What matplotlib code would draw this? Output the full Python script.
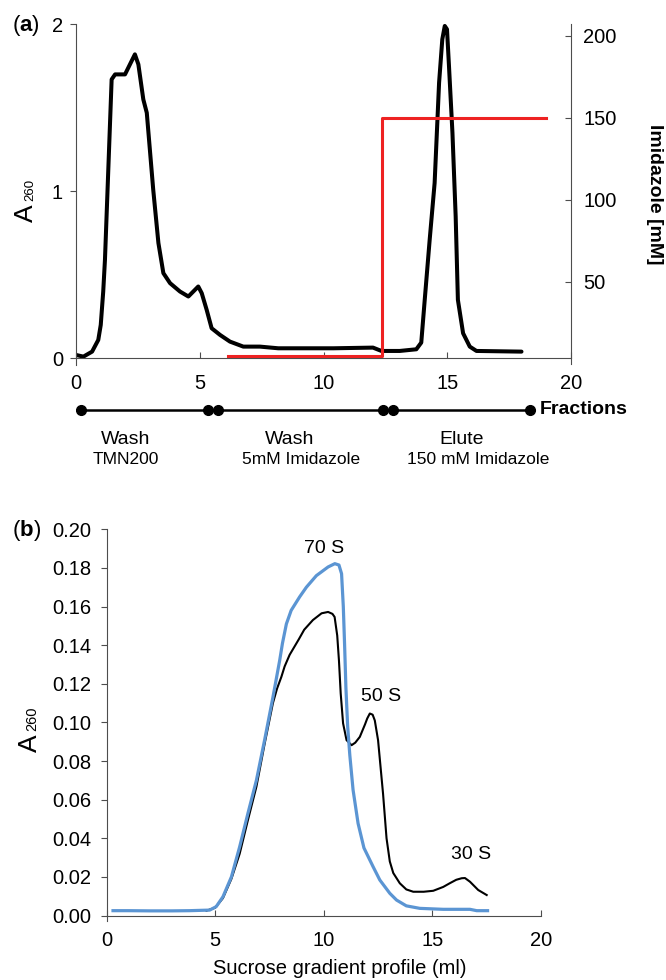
import numpy as np
import matplotlib.pyplot as plt

plt.rcParams['font.family'] = ['Liberation Sans', 'DejaVu Sans']
plt.rcParams['font.size'] = 14
plt.rcParams['xtick.labelsize'] = 14.5
plt.rcParams['ytick.labelsize'] = 14.5
plt.rcParams['mathtext.fontset'] = 'custom'
plt.rcParams['mathtext.rm'] = 'Liberation Sans'
plt.rcParams['mathtext.bf'] = 'Liberation Sans:bold'

# (a) Ni-NTA purification: A260 of the eluate (ml) and imidazole step (mM)
a_ml = [0.0, 0.3, 0.65, 0.9, 1.0, 1.1, 1.17, 1.31, 1.44, 1.58, 1.98, 2.38, 2.52,
        2.72, 2.86, 3.12, 3.33, 3.53, 3.80, 4.2, 4.54, 4.94, 5.08, 5.28, 5.48,
        5.82, 6.22, 6.76, 7.43, 8.17, 10.4, 12.0, 12.34, 13.08, 13.75, 13.95,
        14.09, 14.29, 14.49, 14.67, 14.8, 14.9, 14.99, 15.07, 15.21, 15.34,
        15.43, 15.64, 15.91, 16.18, 18.0]
a_a260 = [0.02, 0.01, 0.04, 0.11, 0.2, 0.4, 0.59, 1.15, 1.67, 1.70, 1.70, 1.82,
          1.76, 1.55, 1.47, 1.01, 0.69, 0.51, 0.45, 0.40, 0.37, 0.43, 0.39, 0.29,
          0.18, 0.14, 0.10, 0.07, 0.07, 0.06, 0.06, 0.064, 0.044, 0.044, 0.054,
          0.094, 0.35, 0.71, 1.05, 1.65, 1.91, 1.99, 1.97, 1.75, 1.35, 0.85,
          0.35, 0.15, 0.07, 0.044, 0.04]
imid_ml = [6.15, 12.35, 12.35, 19.0]
imid_mm = [5, 5, 150, 150]

# fraction boundaries (ml) and buffer steps
frac_ml = [0.2, 5.35, 5.75, 12.4, 12.8, 18.35]
stage_titles = ['Wash', 'Wash', 'Elute']
stage_notes = ['TMN200', '5mM Imidazole', '150 mM Imidazole']

# (b) sucrose gradient profiles
blk_ml = [4.6, 5.0, 5.36, 5.75, 6.13, 6.5, 6.9, 7.28, 7.66, 7.85, 8.05, 8.2,
          8.43, 8.85, 9.1, 9.5, 9.9, 10.2, 10.4, 10.5, 10.62, 10.7, 10.78, 10.89,
          11.05, 11.28, 11.45, 11.66, 11.9, 12.0, 12.12, 12.25, 12.35, 12.5,
          12.73, 12.89, 13.04, 13.2, 13.5, 13.8, 14.12, 14.6, 15.04, 15.5, 15.8,
          16.1, 16.35, 16.5, 16.73, 17.11, 17.5]
blk_a260 = [0.0025, 0.0040, 0.009, 0.019, 0.032, 0.049, 0.0667, 0.089, 0.110,
            0.1175, 0.1236, 0.129, 0.135, 0.1430, 0.148, 0.153, 0.1565, 0.1572,
            0.1562, 0.1546, 0.145, 0.132, 0.115, 0.0995, 0.0908, 0.0882, 0.0895,
            0.0925, 0.099, 0.102, 0.1046, 0.104, 0.101, 0.0908, 0.063, 0.040,
            0.028, 0.022, 0.0167, 0.0135, 0.0123, 0.0123, 0.0128, 0.0148, 0.0167,
            0.0185, 0.0193, 0.0194, 0.0175, 0.0132, 0.0106]
blu_ml = [0.3, 1.0, 2.0, 3.0, 3.82, 4.75, 5.05, 5.36, 5.75, 6.13, 6.51, 6.9,
          7.28, 7.66, 7.97, 8.1, 8.28, 8.5, 8.89, 9.2, 9.66, 10.2, 10.51, 10.7,
          10.82, 10.9, 10.96, 11.02, 11.1, 11.2, 11.35, 11.58, 11.85, 12.27,
          12.58, 13.04, 13.35, 13.8, 14.42, 15.5, 16.73, 17.04, 17.54]
blu_a260 = [0.0025, 0.0025, 0.0024, 0.0024, 0.0025, 0.0028, 0.0046, 0.0097,
            0.020, 0.0356, 0.0529, 0.070, 0.091, 0.113, 0.132, 0.141, 0.151,
            0.158, 0.165, 0.170, 0.176, 0.1805, 0.1822, 0.1815, 0.177, 0.160,
            0.140, 0.118, 0.098, 0.083, 0.065, 0.0477, 0.035, 0.0253, 0.0184,
            0.0115, 0.008, 0.005, 0.0037, 0.0032, 0.0032, 0.0025, 0.0025]
peak_names = ['70 S', '50 S', '30 S']

W, H = 666, 980
SPINE = '#4d4d4d'
fig = plt.figure(figsize=(W / 100, H / 100), dpi=100)


def box(left, top, right, bottom):
    return [left / W, 1 - bottom / H, (right - left) / W, (bottom - top) / H]


def a260_label(x, y, big, small):
    fig.text(x / W, 1 - y / H, 'A', rotation=90, rotation_mode='anchor',
             ha='left', va='baseline', fontsize=big)
    fig.text(x / W, 1 - (y - 21) / H, '260', rotation=90, rotation_mode='anchor',
             ha='left', va='baseline', fontsize=small)


# ---- panel (a)
ax = fig.add_axes(box(76, 24.3, 571, 358.3))
ax.plot(a_ml, a_a260, color='black', lw=2.9, solid_joinstyle='round',
        solid_capstyle='round')
ax.set_xlim(0, 20)
ax.set_ylim(0, 2)
ax.set_xticks([0, 5, 10, 15, 20])
ax.set_yticks([0, 1, 2])
for s in ['top', 'right']:
    ax.spines[s].set_visible(False)
for s in ['left', 'bottom']:
    ax.spines[s].set_color(SPINE)
ax.spines['left'].set_bounds(-0.04, 2)
ax.tick_params(axis='x', direction='in', length=4.3, color=SPINE, pad=11)
ax.tick_params(axis='y', direction='out', length=4.3, color=SPINE, pad=5)

axr = ax.twinx()
axr.plot(imid_ml, imid_mm, color='#ee2222', lw=2.2)
axr.set_ylim(3.3, 206.9)
axr.set_yticks([50, 100, 150, 200])
for s in ['top', 'left', 'bottom']:
    axr.spines[s].set_visible(False)
axr.spines['right'].set_color(SPINE)
axr.spines['right'].set_bounds(0, 206.9)
axr.tick_params(axis='y', direction='in', length=4.3, color=SPINE, pad=9)

fig.text(12 / W, 1 - 25 / H, r'($\mathbf{a}$)', ha='left', va='center', fontsize=16)
a260_label(33.3, 222, 19, 9.5)
fig.text(655 / W, 1 - 194 / H, 'Imidazole [mM]', rotation=270,
         ha='center', va='center', fontweight='bold')

# fractions bar under panel (a)
axf = fig.add_axes(box(76, 395, 571, 475))
axf.set_xlim(0, 20)
axf.set_ylim(475, 395)
axf.axis('off')
axf.plot([frac_ml[0], frac_ml[-1]], [410, 410], color='black', lw=1.8)
axf.plot(frac_ml, [410] * len(frac_ml), 'o', color='black', ms=7)
axf.text(18.75, 410, 'Fractions', ha='left', va='center', fontweight='bold')
for title, note, tx, nx in zip(stage_titles, stage_notes,
                               [2.0, 8.65, 15.6], [2.0, 9.1, 16.25]):
    axf.text(tx, 439, title, ha='center', va='center', fontsize=14)
    axf.text(nx, 460, note, ha='center', va='center', fontsize=12.5)

# ---- panel (b)
bx = fig.add_axes(box(106.5, 529.3, 541, 915.5))
bx.plot(blk_ml, blk_a260, color='black', lw=1.5, solid_joinstyle='round')
bx.plot(blu_ml, blu_a260, color='#5b95d3', lw=2.3, solid_joinstyle='round')
bx.set_xlim(0, 20)
bx.set_ylim(0, 0.2)
bx.set_xticks([0, 5, 10, 15, 20])
bx.set_yticks(np.arange(0, 0.201, 0.02))
bx.yaxis.set_major_formatter(plt.FormatStrFormatter('%.2f'))
for s in ['top', 'right']:
    bx.spines[s].set_visible(False)
for s in ['left', 'bottom']:
    bx.spines[s].set_color(SPINE)
bx.spines['left'].set_bounds(-0.0028, 0.2)
bx.tick_params(axis='x', direction='in', length=4.3, color=SPINE, pad=11)
bx.tick_params(axis='y', direction='out', length=4.3, color=SPINE, pad=6.5)

for name, px, py in zip(peak_names, [10.0, 12.66, 16.8], [0.19, 0.1136, 0.0318]):
    bx.text(px, py, name, ha='center', va='center')
bx.text((340 - 106.5) / 434.5, (915.5 - 968) / 386.2, 'Sucrose gradient profile (ml)',
        transform=bx.transAxes, ha='center', va='center', fontsize=14.5)

fig.text(12 / W, 1 - 530 / H, r'($\mathbf{b}$)', ha='left', va='center', fontsize=16)
a260_label(36.7, 751.7, 19, 10.5)

fig.savefig('out.png', dpi=100)
